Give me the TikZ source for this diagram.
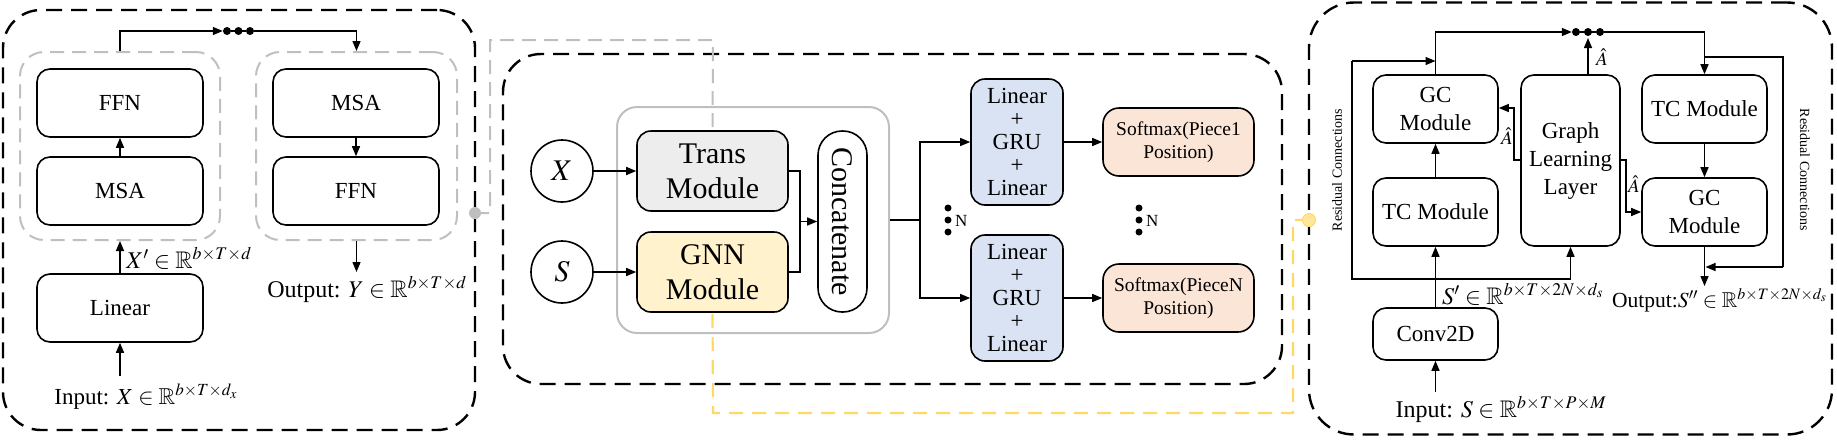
\documentclass[tikz,border=0pt]{standalone}
\usepackage{mathptmx}
\usepackage{amssymb}
\usepackage{fontspec}
\setmainfont{Liberation Serif}
\usetikzlibrary{arrows.meta,calc}
\definecolor{grayln}{HTML}{BFBFBF}
\definecolor{ylw}{HTML}{FFD966}
\definecolor{ylwdot}{HTML}{FFE699}
\definecolor{transfill}{HTML}{EDEDED}
\definecolor{gnnfill}{HTML}{FFF2CC}
\definecolor{bluefill}{HTML}{DAE3F3}
\definecolor{orfill}{HTML}{FBE5D6}
\newcommand{\fsz}[2]{\fontsize{#1}{#2}\selectfont}
\begin{document}
\begin{tikzpicture}[x=1pt,y=-1pt,
  arr/.style={-{Triangle[length=10pt,width=8pt]}, line width=1.4},
  ln/.style={line width=1.4},
  bx/.style={draw, line width=1.6, rounded corners=13, inner sep=0, align=center},
  outerbox/.style={draw, line width=2.4, dash pattern=on 16pt off 9pt, rounded corners=38, inner sep=0},
  grp/.style={draw=grayln, line width=2, dash pattern=on 14pt off 8pt, rounded corners=24, inner sep=0},
  gdash/.style={draw=grayln, line width=2, dash pattern=on 14pt off 8pt},
  ydash/.style={draw=ylw, line width=2.2, dash pattern=on 14pt off 9pt},
  dotn/.style={circle, fill, inner sep=0, minimum size=8},
  sdot/.style={circle, fill, inner sep=0, minimum size=7},
  fa/.style={font=\fsz{23}{28}},
  fb/.style={font=\fsz{30}{35}},
  fc/.style={font=\fsz{19.5}{23}},
  fl/.style={font=\fsz{23}{23}},
  fhat/.style={font=\fsz{19}{20}, inner sep=0},
  fres/.style={font=\fsz{14}{16}},
  fn/.style={font=\fsz{17}{19}},
  lab/.style={font=\fsz{24}{28}, inner sep=0},
]
\useasboundingbox (0,0) rectangle (1837,440);

% ---------- panels ----------
\node[outerbox, minimum width=472, minimum height=420] (pL) at (239,220) {};
\node[outerbox, minimum width=779, minimum height=330] (pM) at (892.5,219) {};
\node[outerbox, rounded corners=45, minimum width=523, minimum height=432] (pR) at (1570.5,218.5) {};

% ---------- left panel ----------
\node[grp, minimum width=200, minimum height=188] (gL) at (120,146) {};
\node[grp, minimum width=201, minimum height=188] (gR) at (356.5,146) {};
\node[bx, fa, minimum width=166, minimum height=68] (ffnA) at (120,103) {FFN};
\node[bx, fa, minimum width=166, minimum height=68] (msaA) at (120,191) {MSA};
\node[bx, fa, minimum width=166, minimum height=68] (linA) at (120,308) {Linear};
\node[bx, fa, minimum width=166, minimum height=68] (msaB) at (356,103) {MSA};
\node[bx, fa, minimum width=166, minimum height=68] (ffnB) at (356,191) {FFN};
\node[dotn] (ld1) at (227,31) {};
\node[dotn] (ld2) at (238.5,31) {};
\node[dotn] (ld3) at (250,31) {};
\draw[arr] (gL.north) |- (ld1.west);
\draw[ln] (ld1) -- (ld3);
\draw[arr] (ld3.east) -| (gR.north);
\draw[arr] (msaA) -- (ffnA);
\draw[arr] (msaB) -- (ffnB);
\draw[arr] (linA) -- (gL.south);
\coordinate (inL) at (120,376);
\draw[arr] (inL) -- (linA.south);
\coordinate (outL) at (356.5,272);
\draw[arr] (gR.south) -- (outL);
\node[lab, anchor=base] (xpl) at (189,268) {$X'\in\mathbb{R}^{b\times T\times d}$};
\node[lab, font=\fsz{23}{28}, anchor=base] (inlab) at (146,404) {Input: $X\in\mathbb{R}^{b\times T\times d_x}$};
\node[lab, anchor=base] (outlab) at (367,297) {Output: $Y\in\mathbb{R}^{b\times T\times d}$};

% ---------- connectors between panels ----------
\node[bx, rounded corners=20, draw=grayln, line width=2, minimum width=272, minimum height=226] (inner) at (753,220) {};
\node[bx, fb, fill=transfill, rounded corners=14, minimum width=151, minimum height=80] (trans) at (712.5,171) {Trans\\Module};
\node[bx, fb, fill=gnnfill, rounded corners=14, minimum width=151, minimum height=80] (gnn) at (712.5,272) {GNN\\Module};
\draw[gdash] (475,213) -- (490,213) -- (490,40) -- (713,40) -- (trans.north);
\draw[ydash] (1309,220) -- (1293,220) -- (1293,413) -- (713,413) -- (gnn.south);
\node[circle, fill=grayln, inner sep=0, minimum size=12] (gc) at (475,213) {};
\node[circle, fill=ylwdot, draw=ylw, line width=1, inner sep=0, minimum size=13] (yc) at (1309,220) {};

% ---------- middle panel ----------
\node[circle, draw, line width=1.6, minimum size=62, inner sep=0, fb] (cx) at (562,171) {$X$};
\node[circle, draw, line width=1.6, minimum size=62, inner sep=0, fb] (cs) at (562,272) {$S$};
\node[bx, fb, rounded corners=24, minimum width=49, minimum height=181] (concat) at (842.5,221.5) {};
\node[fb, rotate=-90] (concattxt) at (concat.center) {Concatenate};
\draw[arr] (cx) -- (trans.west);
\draw[arr] (cs) -- (gnn.west);
\coordinate (cj) at (800,221.5);
\draw[ln] (trans.east) -| (cj);
\draw[ln] (gnn.east) -| (cj);
\draw[arr] (cj) -- (concat.west);
\node[bx, fl, fill=bluefill, rounded corners=14, minimum width=92, minimum height=126] (lin1) at (1017,142) {Linear\\+\\GRU\\+\\Linear};
\node[bx, fl, fill=bluefill, rounded corners=14, minimum width=92, minimum height=126] (lin2) at (1017,298) {Linear\\+\\GRU\\+\\Linear};
\node[bx, fc, fill=orfill, rounded corners=16, minimum width=151, minimum height=68] (sm1) at (1178.5,142) {Softmax(Piece1\\Position)};
\node[bx, fc, fill=orfill, rounded corners=16, minimum width=151, minimum height=68] (sm2) at (1178.5,298) {Softmax(PieceN\\Position)};
\coordinate (sp) at (920,220);
\draw[ln] (inner.east) -- (sp);
\draw[arr] (sp) |- (lin1.west);
\draw[arr] (sp) |- (lin2.west);
\draw[arr] (lin1) -- (sm1);
\draw[arr] (lin2) -- (sm2);
\node[sdot] (na1) at (948,208) {};
\node[sdot] (na2) at (948,220) {};
\node[sdot] (na3) at (948,232) {};
\node[fn, anchor=west, inner sep=0] (nA) at (955,221) {N};
\node[sdot] (nb1) at (1139,208) {};
\node[sdot] (nb2) at (1139,220) {};
\node[sdot] (nb3) at (1139,232) {};
\node[fn, anchor=west, inner sep=0] (nB) at (1146,221) {N};

% ---------- right panel ----------
\node[bx, fa, minimum width=125, minimum height=68] (gc1) at (1435.5,109) {GC\\Module};
\node[bx, fa, minimum width=125, minimum height=68] (tc1) at (1435.5,212) {TC Module};
\node[bx, fa, minimum width=125, minimum height=52] (conv) at (1435.5,334) {Conv2D};
\node[bx, fa, minimum width=99, minimum height=171] (gll) at (1570.5,160.5) {Graph\\Learning\\Layer};
\node[bx, fa, minimum width=125, minimum height=68] (tc2) at (1704.5,109) {TC Module};
\node[bx, fa, minimum width=125, minimum height=68] (gc2) at (1704.5,212) {GC\\Module};
\node[dotn] (rd1) at (1576,32) {};
\node[dotn] (rd2) at (1588,32) {};
\node[dotn] (rd3) at (1600,32) {};
\draw[arr] (gc1.north) |- (rd1.west);
\draw[ln] (rd1) -- (rd3);
\draw[arr] (rd3.east) -| (tc2.north);
\coordinate (gup) at (1588,38);
\draw[arr] (gll.north -| gup) -- (gup);
\node[fhat] (ah1) at (1602,57) {$\hat{A}$};
\coordinate (inR) at (1435.5,392);
\draw[arr] (inR) -- (conv.south);
\draw[arr] (conv) -- (tc1);
\draw[arr] (tc1) -- (gc1);
\coordinate (rj) at (1435.5,279);
\draw[ln] (rj) -| (1352,61);
\draw[arr] (1352,61) -- (1435.5,61);
\draw[arr] (rj) -| (gll.south);
\draw[arr] (tc2) -- (gc2);
\coordinate (rs) at (1704.5,57);
\draw[ln] (rs) -- (1783,57) -- (1783,267);
\draw[arr] (1783,267) -- (1705.5,267);
\coordinate (outR) at (1704.5,286);
\draw[arr] (gc2.south) -- (outR);
\draw[arr] (gll.west |- 0,160) -- (1514,160) -- (1514,108) -- (gc1.east |- 0,108);
\draw[arr] (gll.east |- 0,160) -- (1626,160) -- (1626,212) -- (gc2.west);
\node[fhat] (ah2) at (1507,136) {$\hat{A}$};
\node[fhat] (ah3) at (1634,184) {$\hat{A}$};
\node[fres, rotate=90] (resL) at (1337,170) {Residual Connections};
\node[fres, rotate=-90] (resR) at (1805,170) {Residual Connections};
\node[lab, anchor=base west] (sprime) at (1442,304) {$S'\in\mathbb{R}^{b\times T\times 2N\times d_s}$};
\node[lab, anchor=base] (inlabR) at (1501,417) {Input: $S\in\mathbb{R}^{b\times T\times P\times M}$};
\node[lab, font=\fsz{21.5}{26}, anchor=base west] (outlabR) at (1612,307) {Output:$S''\in\mathbb{R}^{b\times T\times 2N\times d_s}$};
\end{tikzpicture}
\end{document}
